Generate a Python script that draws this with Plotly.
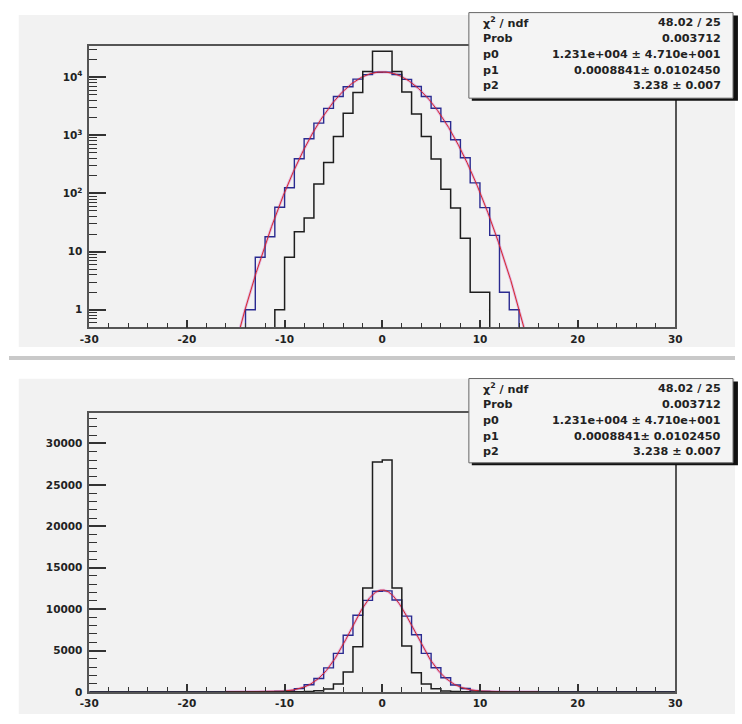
import numpy as np
import plotly.graph_objects as go

W, H = 742, 724

# Histogram binning: 60 unit-width bins on [-30, 30]
bin_edges = list(range(-30, 31))

# Wide distribution (fitted), first non-empty bin starts at -14
wide_first_bin = -14
wide_counts = [1, 8, 18, 58, 125, 395, 870, 1620, 2900, 4650, 6850, 9250, 11050, 12150,
               12200, 11100, 9150, 6900, 4650, 2920, 1720, 840, 410, 152, 57, 19, 2, 1]

# Narrow distribution, first non-empty bin starts at -11
narrow_first_bin = -11
narrow_counts = [1, 8, 22, 38, 145, 340, 950, 2400, 5450, 12550, 27750,
                 28000, 12550, 5550, 2330, 950, 390, 118, 56, 17, 2, 2]

# Gaussian fit result and the range the function is drawn over
fit_p0, fit_p1, fit_p2 = 1.231e4, 0.0008841, 3.238
fit_range = (-16, 16)
stats_labels = ["χ<sup>2</sup> / ndf", "Prob", "p0", "p1", "p2"]
stats_values = ["48.02 / 25", "0.003712", "1.231e+004 ± 4.710e+001",
                "0.0008841± 0.0102450", "3.238 ± 0.007"]

x_ticks = [-30, -20, -10, 0, 10, 20, 30]
x_ticktext = ["-30", "-20", "-10", "0", "10", "20", "30"]
log_ticks = [1, 10, 100, 1000, 10000]
log_ticktext = ["1", "10", "10<sup>2</sup>", "10<sup>3</sup>", "10<sup>4</sup>"]
lin_ticks = [0, 5000, 10000, 15000, 20000, 25000, 30000]
lin_ticktext = ["0", "5000", "10000", "15000", "20000", "25000", "30000"]


def full_counts(first_bin, counts):
    n = len(bin_edges) - 1
    out = [0] * n
    start = first_bin - bin_edges[0]
    for i, c in enumerate(counts):
        out[start + i] = c
    return out


def step_xy(counts, floor=None):
    ys = [c if (floor is None or c > 0) else floor for c in counts]
    return bin_edges, ys + [ys[-1]]


wide_full = full_counts(wide_first_bin, wide_counts)
narrow_full = full_counts(narrow_first_bin, narrow_counts)

fx = np.linspace(fit_range[0], fit_range[1], 1601)
fy = fit_p0 * np.exp(-0.5 * ((fx - fit_p1) / fit_p2) ** 2)

WIDE_COL = "#2a2a90"
NARROW_COL = "#1e1e1e"
PINK = "rgba(214,130,214,0.55)"
RED = "#d62a2a"
PAD_BG = "#f2f2f2"
FRAME = "#555555"
TXT = "#222222"
FONT = "DejaVu Sans"

fig = go.Figure()

for xa, ya, floor in (("x", "y", 0.02), ("x2", "y2", None)):
    wx, wy = step_xy(wide_full, floor)
    nx, ny = step_xy(narrow_full, floor)
    fig.add_trace(go.Scatter(x=fx, y=fy, mode="lines", line=dict(color=PINK, width=2.6),
                             xaxis=xa, yaxis=ya, showlegend=False))
    fig.add_trace(go.Scatter(x=wx, y=wy, mode="lines", line=dict(color=WIDE_COL, width=1.4, shape="hv"),
                             xaxis=xa, yaxis=ya, showlegend=False))
    fig.add_trace(go.Scatter(x=fx, y=fy, mode="lines", line=dict(color=RED, width=1),
                             xaxis=xa, yaxis=ya, showlegend=False))
    fig.add_trace(go.Scatter(x=nx, y=ny, mode="lines", line=dict(color=NARROW_COL, width=1.5, shape="hv"),
                             xaxis=xa, yaxis=ya, showlegend=False))

tickfont = dict(family=FONT, size=10.5, color=TXT, weight="bold")

xaxis_common = dict(
    range=[-30, 30], tickmode="array", tickvals=x_ticks, ticktext=x_ticktext,
    ticks="inside", ticklen=8, tickwidth=1.5, tickcolor="#333333",
    minor=dict(ticks="inside", ticklen=5, tickwidth=1.2, tickcolor="#333333", dtick=2, tick0=-30),
    showline=True, mirror=True, linecolor=FRAME, linewidth=1.5,
    showgrid=False, zeroline=False, tickfont=tickfont, ticklabelstandoff=1,
    domain=[82 / W, 681 / W],
)

log_minor = []
for dec in (0.1, 1, 10, 100, 1000, 10000):
    for m in range(2, 10):
        v = m * dec
        if 0.5 < v < 34000:
            log_minor.append(v)

fig.update_layout(
    width=W, height=H, margin=dict(l=0, r=0, t=0, b=0),
    paper_bgcolor="white", plot_bgcolor=PAD_BG,
    xaxis=dict(anchor="y", **xaxis_common),
    xaxis2=dict(anchor="y2", **xaxis_common),
    yaxis=dict(
        type="log", range=[np.log10(0.5), 4.53], domain=[1 - 330 / H, 1 - 46.7 / H], anchor="x",
        tickmode="array", tickvals=log_ticks, ticktext=log_ticktext,
        ticks="inside", ticklen=17, tickwidth=1.5, tickcolor="#333333",
        minor=dict(ticks="inside", ticklen=8, tickwidth=1.2, tickcolor="#333333",
                   tickmode="array", tickvals=log_minor),
        showline=True, mirror=True, linecolor=FRAME, linewidth=1.5,
        showgrid=False, zeroline=False, tickfont=tickfont, ticklabelstandoff=3,
    ),
    yaxis2=dict(
        range=[0, 33650], domain=[1 - 697.7 / H, 1 - 416.7 / H], anchor="x2",
        tickmode="array", tickvals=lin_ticks, ticktext=lin_ticktext,
        ticks="inside", ticklen=17, tickwidth=1.5, tickcolor="#333333",
        minor=dict(ticks="inside", ticklen=8, tickwidth=1.2, tickcolor="#333333", dtick=1000, tick0=0),
        showline=True, mirror=True, linecolor=FRAME, linewidth=1.5,
        showgrid=False, zeroline=False, tickfont=tickfont, ticklabelstandoff=3,
    ),
)


def px_rect(x0, y0, x1, y1, **kw):
    return dict(type="rect", xref="paper", yref="paper",
                x0=x0 / W, x1=x1 / W, y0=1 - y1 / H, y1=1 - y0 / H, **kw)


shapes = [
    px_rect(10, 15, W, 350, fillcolor=PAD_BG, line=dict(width=0), layer="below"),
    px_rect(0, 359, W, 363, fillcolor="#c9c9c9", line=dict(width=0), layer="below"),
    px_rect(10, 382, W, 720, fillcolor=PAD_BG, line=dict(width=0), layer="below"),
]

stats_font = dict(family=FONT, size=11.2, color=TXT, weight="bold")
annotations = []
for top, bottom in ((12.7, 99), (381.7, 466.7)):
    shapes.append(px_rect(473, top + 3, W + 3, bottom + 2.5, fillcolor="#111111", line=dict(width=0)))
    shapes.append(px_rect(470, top, 740, bottom, fillcolor="#f4f4f4", line=dict(color="#666666", width=1)))
    for i, (lab, val) in enumerate(zip(stats_labels, stats_values)):
        yc = 1 - (top + 10 + 16 * i) / H
        annotations.append(dict(xref="paper", yref="paper", x=482 / W, y=yc, text=lab, showarrow=False,
                                xanchor="left", yanchor="middle", font=stats_font))
        annotations.append(dict(xref="paper", yref="paper", x=730 / W, y=yc, text=val, showarrow=False,
                                xanchor="right", yanchor="middle", font=stats_font))

fig.update_layout(shapes=shapes, annotations=annotations)

fig.write_html("out.html")
